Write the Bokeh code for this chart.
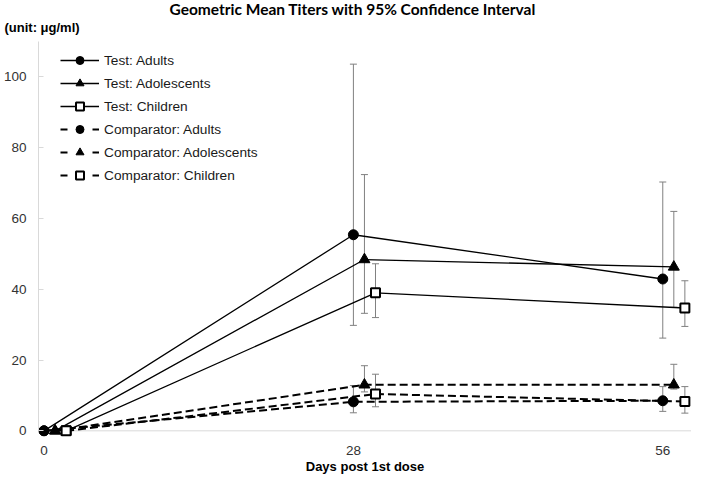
from bokeh.plotting import figure
from bokeh.models import (ColumnDataSource, Whisker, TeeHead, Legend, LegendItem,
                          Span, Title, FixedTicker, Range1d)
from bokeh.transform import dodge
from bokeh.embed import file_html
from bokeh.resources import INLINE

# ---------------- data ----------------
days = [0, 28, 56]
x_ticks = [0, 28, 56]
y_ticks = [0, 20, 40, 60, 80, 100]

test_adults = [0.0, 55.4, 42.9]
test_adults_lo = [0.0, 29.8, 26.2]
test_adults_hi = [0.0, 103.6, 70.3]

test_adol = [0.0, 48.4, 46.3]
test_adol_lo = [0.0, 33.2, 34.9]
test_adol_hi = [0.0, 72.4, 62.0]

test_child = [0.0, 39.0, 34.7]
test_child_lo = [0.0, 32.0, 29.5]
test_child_hi = [0.0, 47.2, 42.4]

comp_adults = [0.0, 8.2, 8.5]
comp_adults_lo = [0.0, 5.1, 5.5]
comp_adults_hi = [0.0, 12.8, 12.5]

comp_adol = [0.0, 13.0, 13.0]
comp_adol_lo = [0.0, 11.0, 11.8]
comp_adol_hi = [0.0, 18.4, 18.8]

comp_child = [0.0, 10.4, 8.3]
comp_child_lo = [0.0, 6.8, 5.0]
comp_child_hi = [0.0, 16.0, 12.5]

labels = ["Test: Adults", "Test: Adolescents", "Test: Children",
          "Comparator: Adults", "Comparator: Adolescents", "Comparator: Children"]

series = [
    (labels[0], test_adults, test_adults_lo, test_adults_hi, "circle", 0.0, False),
    (labels[1], test_adol, test_adol_lo, test_adol_hi, "triangle", 1.0, False),
    (labels[2], test_child, test_child_lo, test_child_hi, "square", 2.0, False),
    (labels[3], comp_adults, comp_adults_lo, comp_adults_hi, "circle", 0.0, True),
    (labels[4], comp_adol, comp_adol_lo, comp_adol_hi, "triangle", 1.0, True),
    (labels[5], comp_child, comp_child_lo, comp_child_hi, "square", 2.0, True),
]

FONT = "Liberation Sans"
NAN = float("nan")

p = figure(frame_width=653, frame_height=395,
           x_range=Range1d(-0.5, 58.6), y_range=Range1d(-1.6, 110),
           output_backend="svg", toolbar_location=None,
           min_border_left=34, min_border_right=0, min_border_top=0,
           min_border_bottom=0)
p.outline_line_color = None
p.grid.visible = False
p.background_fill_color = "white"

# titles: main title on top, unit line below it (closest to the frame)
p.title.text = "Geometric Mean Titers with 95% Confidence Interval"
p.title.align = "left"
p.title.offset = 131
p.title.vertical_align = "bottom"
p.title.text_font = "Lato"
p.title.text_font_size = "15.5px"
p.title.text_font_style = "bold"
p.title.text_color = "#000000"
p.title.standoff = -6
p.add_layout(Title(text="(unit: \u03bcg/ml)", align="left", offset=-34,
                   vertical_align="top",
                   text_font=FONT, text_font_size="13px",
                   text_font_style="bold", text_color="#000000",
                   standoff=10), "above")

# axes
xa = p.xaxis[0]
xa.ticker = FixedTicker(ticks=x_ticks)
xa.axis_line_color = None
xa.major_tick_line_color = None
xa.minor_tick_line_color = None
xa.major_label_standoff = 3
xa.major_label_text_font = FONT
xa.major_label_text_font_size = "13.5px"
xa.major_label_text_color = "#333333"
xa.axis_label = "Days post 1st dose"
xa.axis_label_standoff = 1
xa.axis_label_text_font = FONT
xa.axis_label_text_font_size = "13px"
xa.axis_label_text_font_style = "bold"
xa.axis_label_text_color = "#000000"

ya = p.yaxis[0]
ya.ticker = FixedTicker(ticks=y_ticks)
ya.bounds = (0, 110)
ya.axis_line_color = "#d9d9d9"
ya.major_tick_line_color = "#d9d9d9"
ya.major_tick_in = 5
ya.major_tick_out = 0
ya.minor_tick_line_color = None
ya.major_label_standoff = 12
ya.major_label_text_font = FONT
ya.major_label_text_font_size = "13.5px"
ya.major_label_text_color = "#333333"

p.add_layout(Span(location=0, dimension="width", line_color="#d9d9d9",
                  line_width=1, level="underlay"))

src_data = {"day": days}
for name, vals, lo, hi, mk, off, dashed in series:
    src_data[name] = vals
src = ColumnDataSource(src_data)

items = []
for name, vals, lo, hi, mk, off, dashed in series:
    xs = dodge("day", off, range=p.x_range)
    # error bars (only where an interval exists)
    idx = [i for i in range(len(days)) if hi[i] > lo[i]]
    wsrc = ColumnDataSource({"day": [days[i] for i in idx],
                             "lo": [lo[i] for i in idx],
                             "hi": [hi[i] for i in idx]})
    w = Whisker(source=wsrc, base=dodge("day", off, range=p.x_range),
                lower="lo", upper="hi", line_color="#808080", line_width=1,
                level="underlay",
                upper_head=TeeHead(size=7, line_color="#808080", line_width=1),
                lower_head=TeeHead(size=7, line_color="#808080", line_width=1))
    p.add_layout(w)

    if dashed:
        p.line(x=xs, y=name, source=src, line_color="black",
               line_width=2, line_dash="8 4")
        # legend-only renderer (nothing drawn in the plot area)
        leg_ln = p.line(x=[NAN], y=[NAN], line_color="black", line_width=2,
                        line_dash="7 25")
    else:
        leg_ln = p.line(x=xs, y=name, source=src, line_color="black",
                        line_width=1.3)

    if mk == "square":
        sc = p.scatter(x=xs, y=name, source=src, marker="square", size=9,
                       fill_color="white", line_color="black", line_width=2)
    elif mk == "triangle":
        sc = p.scatter(x=xs, y=name, source=src, marker="triangle", size=11,
                       fill_color="black", line_color="black", line_width=1)
    else:
        sc = p.scatter(x=xs, y=name, source=src, marker="circle", size=10,
                       fill_color="black", line_color="black", line_width=1)
    items.append(LegendItem(label=name, renderers=[leg_ln, sc]))

legend = Legend(items=items, location=(22, 251), glyph_width=39,
                glyph_height=20, label_height=20, label_standoff=5, spacing=3,
                padding=0, margin=0, border_line_color=None,
                background_fill_alpha=0, label_text_font=FONT,
                label_text_font_size="13.7px", label_text_color="#1a1a1a")
p.add_layout(legend)

open("out.html", "w").write(file_html(p, INLINE))
